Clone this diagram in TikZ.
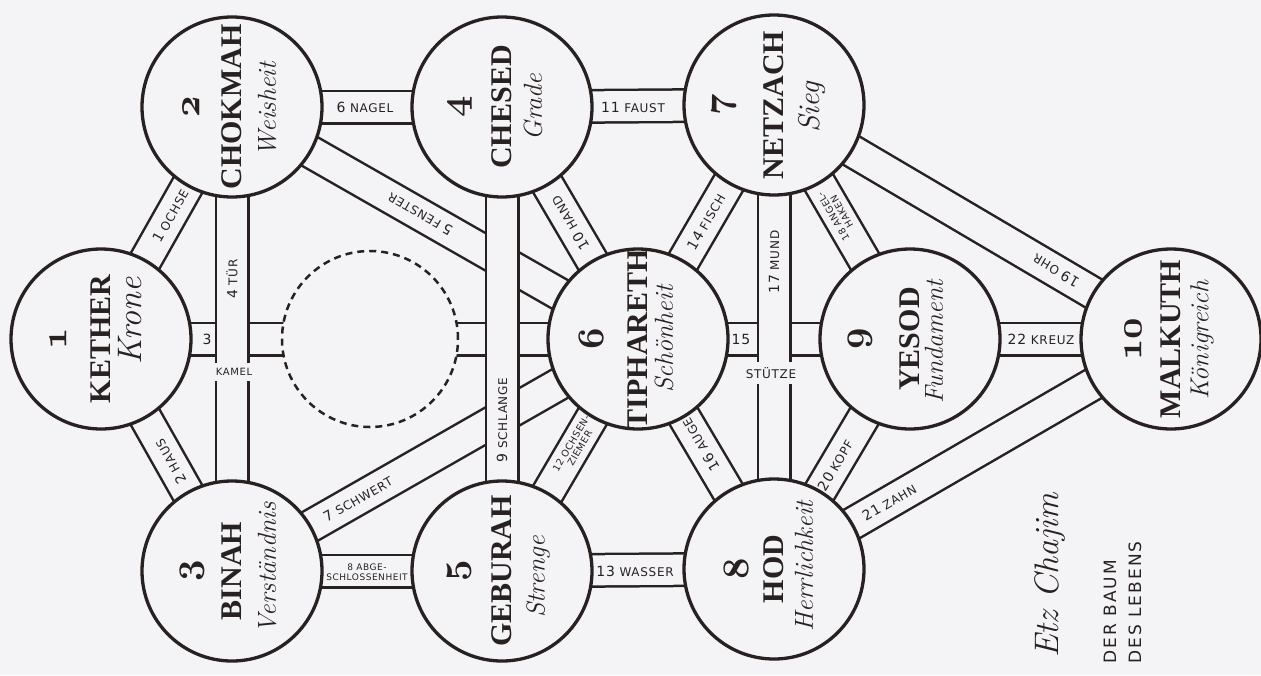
\documentclass[tikz,border=0pt]{standalone}
\usepackage{fontspec}
\newfontfamily\namefont{Liberation Serif}
\newfontfamily\labfont{DejaVu Sans}[LetterSpace=6.0]
\newfontfamily\titlefont{DejaVu Sans}[LetterSpace=12.0]
\usetikzlibrary{calc}
\definecolor{ink}{RGB}{40,33,33}
\definecolor{paper}{RGB}{244,244,246}
\newcommand\osnum[1]{{\fontsize{24.88}{26}\usefont{OML}{cmm}{b}{it}#1}}
\newcommand\pathnum[1]{{\fontsize{14}{14}\selectfont #1}}
\tikzset{
 chout/.style={line width=35pt, draw=ink},
 chin/.style={line width=30pt, draw=paper},
 sefcirc/.style={circle, draw=ink, fill=paper, line width=3.3pt, minimum size=180pt, inner sep=0pt},
 daath/.style={circle, draw=ink, fill=paper, line width=2.5pt, minimum size=176pt, dash pattern=on 7pt off 5pt},
 numst/.style={rotate=90, text=ink, scale=1.5, inner sep=0pt},
 namest/.style={rotate=90, text=ink, font=\namefont\bfseries\fontsize{30}{31}\selectfont, inner sep=0pt},
 gerst/.style={rotate=90, text=ink, font=\itshape\fontsize{26}{28}\selectfont, inner sep=0pt},
 lab/.style={text=ink, font=\labfont\fontsize{12}{13}\selectfont, inner sep=1pt, align=center},
 smalllab/.style={lab, font=\labfont\fontsize{9.5}{10}\selectfont},
 gapnode/.style={lab, fill=paper, inner xsep=2pt, inner ysep=5pt},
 titlest/.style={rotate=90, anchor=west, text=ink, inner sep=0pt},
}
% id, x, y, number, name, german, number dx, german dx, german dy
\newcommand\sefira[9]{%
  \node[sefcirc] (#1) at (#2,#3) {};
  \node[numst] (#1num) at (#2+#7,#3) {\osnum{#4}};
  \node[namest] (#1name) at (#2,#3) {#5};
  \node[gerst] (#1ger) at (#2+#8,#3+#9) {#6};
}
\begin{document}
\begin{tikzpicture}[x=1pt,y=-1pt]
\fill[paper] (0,0) rectangle (1261,675);
\useasboundingbox (0,0) rectangle (1261,675);
\coordinate (c1) at (101,339);
\coordinate (c2) at (232,107);
\coordinate (c3) at (232,571);
\coordinate (c4) at (502,107);
\coordinate (c5) at (502,571);
\coordinate (c6) at (638,339);
\coordinate (c7) at (774,105);
\coordinate (c8) at (774,569);
\coordinate (c9) at (910,339);
\coordinate (c10) at (1171,339);
\coordinate (cd) at (370,339);
% channels
\foreach \a/\b in {c1/c2,c1/c3,c1/c6,c2/c6,c2/c4,c3/c6,c3/c5,c4/c6,c4/c7,c5/c6,c5/c8,c6/c7,c6/c9,c6/c8,c7/c9,c7/c10,c8/c9,c8/c10,c9/c10}
  \draw[chout] (\a) -- (\b);
\foreach \a/\b in {c1/c2,c1/c3,c1/c6,c2/c6,c2/c4,c3/c6,c3/c5,c4/c6,c4/c7,c5/c6,c5/c8,c6/c7,c6/c9,c6/c8,c7/c9,c7/c10,c8/c9,c8/c10,c9/c10}
  \draw[chin] (\a) -- (\b);
\foreach \a/\b in {c2/c3,c4/c5,c7/c8}
  \draw[chout] (\a) -- (\b);
\foreach \a/\b in {c2/c3,c4/c5,c7/c8}
  \draw[chin] (\a) -- (\b);
% Daath
\node[daath] (kd) at (cd) {};
% sefirot
\sefira{k1}{101}{339}{1}{KETHER}{{\fontsize{34}{36}\selectfont Krone}}{-43}{29}{-18}
\sefira{k2}{232}{107}{2}{CHOKMAH}{Weisheit}{-41}{35}{2}
\sefira{k3}{232}{571}{3}{BINAH}{Verständnis}{-40}{35}{-3}
\sefira{k4}{502}{107}{4}{CHESED}{Grade}{-42}{31}{0}
\sefira{k5}{502}{571}{5}{GEBURAH}{Strenge}{-43}{36}{6}
\sefira{k6}{638}{339}{6}{TIPHARETH}{Schönheit}{-47}{26}{0}
\sefira{k7}{774}{105}{7}{NETZACH}{{\fontsize{30}{32}\selectfont Sieg}}{-50}{38}{2}
\sefira{k8}{774}{569}{8}{HOD}{Herrlichkeit}{-38}{30}{-3}
\sefira{k9}{910}{339}{9}{YESOD}{Fundament}{-50}{24}{3}
\sefira{k10}{1171}{339}{10}{MALKUTH}{Königreich}{-38}{31}{1}
% path labels
\path (c1) -- (c2) node[lab, sloped, allow upside down, pos=0.53] (l1) {\pathnum{1} OCHSE};
\path (c3) -- (c1) node[lab, sloped, allow upside down, pos=0.47] (l2) {\pathnum{2} HAUS};
\node[lab] (l3) at (207,339) {\pathnum{3}};
\node[gapnode, font=\labfont\fontsize{10}{11}\selectfont] (l3b) at (234,372) {KAMEL};
\node[lab, rotate=90] (l4) at (232,279) {\pathnum{4} TÜR};
\path (c6) -- (c2) node[lab, sloped, allow upside down, pos=0.537] (l5) {\pathnum{5} FENSTER};
\node[lab] (l6) at (365,107) {\pathnum{6} NAGEL};
\path (c3) -- (c6) node[lab, sloped, allow upside down, pos=0.31] (l7) {\pathnum{7} SCHWERT};
\node[smalllab, font=\labfont\fontsize{9}{10}\selectfont] (l8) at (367,572) {8 ABGE-\\SCHLOSSENHEIT};
\node[lab, rotate=90] (l9) at (502,420) {\pathnum{9} SCHLANGE};
\path (c6) -- (c4) node[lab, sloped, allow upside down, pos=0.5] (l10) {\pathnum{10} HAND};
\node[lab] (l11) at (633,107) {\pathnum{11} FAUST};
\path (c5) -- (c6) node[smalllab, sloped, allow upside down, pos=0.54] (l12) {12 OCHSEN-\\ZIEMER};
\node[lab] (l13) at (635,571) {\pathnum{13} WASSER};
\path (c6) -- (c7) node[lab, sloped, allow upside down, pos=0.5] (l14) {\pathnum{14} FISCH};
\node[lab] (l15) at (741,339) {\pathnum{15}};
\node[gapnode, font=\labfont\fontsize{12}{13}\selectfont] (l15b) at (771,373) {STÜTZE};
\path (c8) -- (c6) node[lab, sloped, allow upside down, pos=0.54] (l16) {\pathnum{16} AUGE};
\node[lab, rotate=90] (l17) at (774,262) {\pathnum{17} MUND};
\path (c9) -- (c7) node[smalllab, sloped, allow upside down, pos=0.534] (l18) {18 ANGEL-\\HAKEN};
\path (c10) -- (c7) node[lab, sloped, allow upside down, pos=0.29] (l19) {\pathnum{19} OHR};
\path (c8) -- (c9) node[lab, sloped, allow upside down, pos=0.45] (l20) {\pathnum{20} KOPF};
\path (c8) -- (c10) node[lab, sloped, allow upside down, pos=0.29] (l21) {\pathnum{21} ZAHN};
\node[lab] (l22) at (1041,339) {\pathnum{22} KREUZ};
% title
\node[titlest, font=\itshape\fontsize{34}{36}\selectfont] (title) at (1050,658) {Etz Chajim};
\node[titlest, font=\titlefont\fontsize{17}{18}\selectfont] (sub1) at (1110,664) {DER BAUM};
\node[titlest, font=\titlefont\fontsize{17}{18}\selectfont] (sub2) at (1135,664) {DES LEBENS};
\end{tikzpicture}
\end{document}
